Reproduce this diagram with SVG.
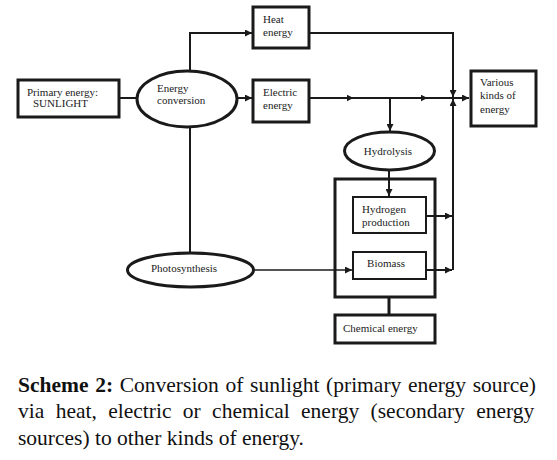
<svg xmlns="http://www.w3.org/2000/svg" width="557" height="460" viewBox="0 0 557 460">
<defs>
<marker id="ah" viewBox="0 0 10 10" refX="10" refY="5" markerWidth="7" markerHeight="7" markerUnits="userSpaceOnUse" orient="auto">
<path d="M0,0 L10,5 L0,10 z" fill="#1a1a1a"/>
</marker>
<marker id="mid" viewBox="0 0 10 10" refX="5" refY="5" markerWidth="7" markerHeight="7" markerUnits="userSpaceOnUse" orient="auto">
<path d="M0,0 L10,5 L0,10 z" fill="#1a1a1a"/>
</marker>
</defs>
<style>
.box{fill:#fff;stroke:#1a1a1a;stroke-width:3}
.box2{fill:#fff;stroke:#1a1a1a;stroke-width:2}
.ell{fill:#fff;stroke:#1a1a1a;stroke-width:3}
.t{font-family:"Liberation Serif","Times New Roman",serif;font-size:11px;fill:#222}
.ln{fill:none;stroke:#1a1a1a;stroke-width:2}
.thin{fill:none;stroke:#1a1a1a;stroke-width:1.5}
.cap{font-family:"Liberation Serif","Times New Roman",serif;font-size:21.5px;fill:#111}
</style>
<rect width="557" height="460" fill="#fff"/>
<g id="chemical-group">
<rect x="335" y="179" width="100" height="118" fill="none" stroke="#1a1a1a" stroke-width="3"/>
</g>
<g id="connectors">
<line class="ln" x1="119" y1="98" x2="136" y2="98"/>
<polyline class="ln" points="190,71 190,33 252,33" marker-end="url(#ah)"/>
<line class="ln" x1="237" y1="98" x2="252" y2="98" marker-end="url(#ah)"/>
<polyline class="ln" points="309,98 350,98 424,98 469,98" marker-mid="url(#mid)" marker-end="url(#ah)"/>
<polyline class="ln" points="309,33 453,33 453,97" marker-end="url(#ah)"/>
<line class="ln" x1="453" y1="270" x2="453" y2="99" marker-end="url(#ah)"/>
<line class="ln" x1="390" y1="98" x2="390" y2="131" marker-end="url(#ah)"/>
<line class="ln" x1="389" y1="170" x2="389" y2="196" marker-end="url(#ah)"/>
<line class="ln" x1="426" y1="216" x2="452" y2="216" marker-end="url(#ah)"/>
<line class="ln" x1="426" y1="270" x2="452" y2="270" marker-end="url(#ah)"/>
<line class="ln" x1="190" y1="127" x2="190" y2="252"/>
<line class="thin" x1="254" y1="270" x2="352" y2="270" marker-end="url(#ah)"/>
<line x1="389" y1="297" x2="389" y2="315" stroke="#1a1a1a" stroke-width="3"/>
</g>
<g id="primary">
<rect class="box" x="18" y="80" width="101" height="37"/>
<text class="t" x="27" y="96">Primary energy:</text>
<text class="t" x="33" y="107">SUNLIGHT</text>
</g>
<g id="conversion">
<ellipse class="ell" cx="187" cy="99" rx="50" ry="28"/>
<text class="t" x="157" y="92">Energy</text>
<text class="t" x="157" y="104">conversion</text>
</g>
<g id="heat">
<rect class="box" x="253" y="7" width="56" height="41"/>
<text class="t" x="263" y="23">Heat</text>
<text class="t" x="263" y="36">energy</text>
</g>
<g id="electric">
<rect class="box" x="253" y="80" width="56" height="42"/>
<text class="t" x="263" y="96">Electric</text>
<text class="t" x="263" y="109">energy</text>
</g>
<g id="various">
<rect class="box" x="471" y="71" width="65" height="55"/>
<text class="t" x="480" y="86">Various</text>
<text class="t" x="480" y="99">kinds of</text>
<text class="t" x="480" y="113">energy</text>
</g>
<g id="hydrolysis">
<ellipse class="ell" cx="389.5" cy="151" rx="45" ry="19"/>
<text class="t" x="388" y="155" text-anchor="middle">Hydrolysis</text>
</g>
<g id="hydrogen">
<rect class="box2" x="353" y="197" width="73" height="36"/>
<text class="t" x="362" y="213">Hydrogen</text>
<text class="t" x="362" y="226">production</text>
</g>
<g id="biomass">
<rect class="box2" x="353" y="252" width="73" height="27"/>
<text class="t" x="386" y="267" text-anchor="middle">Biomass</text>
</g>
<g id="photosynthesis">
<ellipse class="ell" cx="190.5" cy="270" rx="63" ry="17"/>
<text class="t" x="184" y="272" text-anchor="middle">Photosynthesis</text>
</g>
<g id="chemical">
<rect class="box" x="335" y="315" width="100" height="28"/>
<text class="t" x="343" y="332">Chemical energy</text>
</g>
<g id="caption">
<text class="cap" x="18" y="392" word-spacing="1.3"><tspan font-weight="bold">Scheme 2:</tspan> Conversion of sunlight (primary energy source)</text>
<text class="cap" x="18" y="418" word-spacing="6">via heat, electric or chemical energy (secondary energy</text>
<text class="cap" x="18" y="445">sources) to other kinds of energy.</text>
</g>
</svg>
